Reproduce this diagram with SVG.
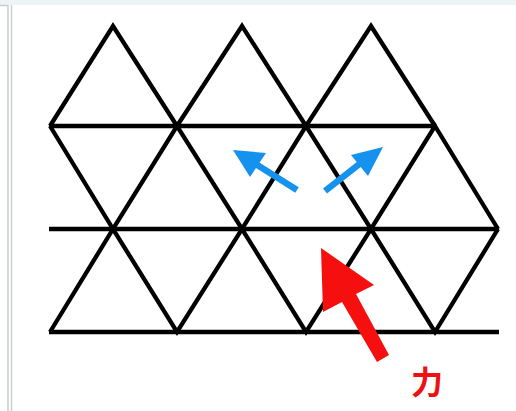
<svg xmlns="http://www.w3.org/2000/svg" width="516" height="411" viewBox="0 0 516 411">
<style>
.lat{fill:none;stroke:#000;stroke-width:4.3;stroke-linejoin:miter;stroke-linecap:butt}
.frame{fill:none;stroke:#c9cdd0;stroke-width:1.5}
.blue{stroke:#1591ee;stroke-width:6.5;fill:none}
.bluehead{fill:#1591ee}
.red{fill:#f50f0f}
.lbl{font-family:"Noto Sans CJK JP","Noto Sans CJK SC",sans-serif;font-weight:700;font-size:32px;fill:#ee1111}
</style>
<rect x="0" y="0" width="516" height="411" fill="#ffffff"/>
<rect x="0" y="0" width="516" height="5" fill="#edf4f6"/>
<g id="frame">
<polyline class="frame" points="0,5.5 8,5.5 8,411"/>
<line class="frame" x1="11.5" y1="5" x2="11.5" y2="411"/>
</g>
<g id="lattice">
<g id="row1">
<polyline class="lat" points="50,126 113,26 177,126"/>
<polyline class="lat" points="177,126 242,26 306,126"/>
<polyline class="lat" points="306,126 371,26 435,126"/>
<line class="lat" x1="49" y1="126" x2="435" y2="126"/>
</g>
<g id="row2">
<polyline class="lat" points="50,126 113,229 177,126 242,229 306,126 371,229 435,126 498,229"/>
<line class="lat" x1="49" y1="229" x2="499" y2="229"/>
</g>
<g id="row3">
<polyline class="lat" points="50,332 113,229 177,332 242,229 306,332 371,229 435,332 498,229"/>
<line class="lat" x1="49" y1="332" x2="499" y2="332"/>
</g>
</g>
<g id="connectors">
<line class="blue" x1="297" y1="190" x2="254" y2="163"/>
<polygon class="bluehead" points="233,150 266,153 250,177"/>
<line class="blue" x1="325" y1="191" x2="362" y2="162"/>
<polygon class="bluehead" points="383,147 368,176 351,155"/>
<polygon class="red" points="321,248 374,285 356,294 389,355 377,362 342,302 323,312"/>
</g>
<g id="label">
<text class="lbl" x="427" y="394" text-anchor="middle">力</text>
</g>
</svg>
